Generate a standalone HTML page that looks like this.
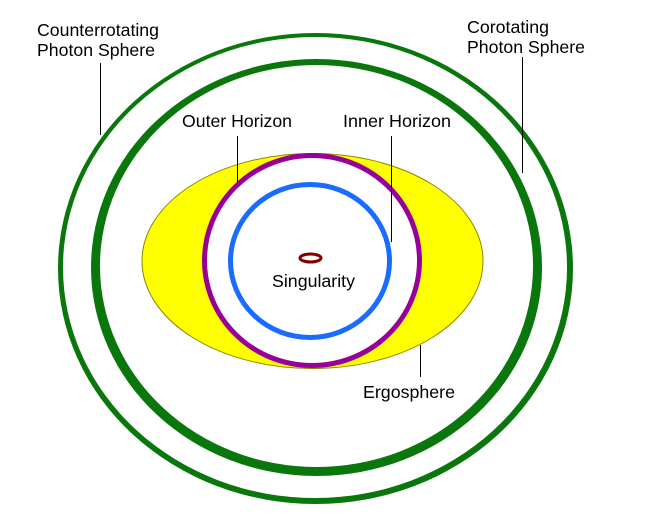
<!DOCTYPE html>
<html>
<head>
<meta charset="utf-8">
<style>
  html, body { margin: 0; padding: 0; background: #ffffff; }
  body { width: 649px; height: 528px; overflow: hidden; }
  svg { display: block; }
  text { font-family: "Liberation Sans", Arial, sans-serif; font-size: 17.5px; fill: #000; }
</style>
</head>
<body>
<svg width="649" height="528" viewBox="0 0 649 528" xmlns="http://www.w3.org/2000/svg">
  <rect x="0" y="0" width="649" height="528" fill="#ffffff"/>

  <!-- Counterrotating photon sphere (outer thin ring) -->
  <ellipse cx="315.5" cy="268.5" rx="257.5" ry="235.5" fill="#0a770c"/>
  <ellipse cx="315" cy="267.5" rx="252" ry="230.5" fill="#ffffff"/>
  <!-- Corotating photon sphere (thick ring, thicker at bottom) -->
  <ellipse cx="316.5" cy="267.5" rx="225.5" ry="208.5" fill="#0a770c"/>
  <ellipse cx="316.5" cy="266" rx="216.5" ry="201" fill="#ffffff"/>

  <!-- Ergosphere -->
  <ellipse cx="312.5" cy="261" rx="170.5" ry="107.5" fill="#ffff00" stroke="#8a8a00" stroke-width="1"/>

  <!-- Outer horizon (purple) -->
  <ellipse cx="312" cy="260.5" rx="107.5" ry="105" fill="#ffffff" stroke="#990099" stroke-width="5"/>

  <!-- Inner horizon (blue) -->
  <ellipse cx="310" cy="261" rx="79.5" ry="76.5" fill="#ffffff" stroke="#1a6cff" stroke-width="5"/>

  <!-- Singularity ring -->
  <ellipse cx="310.5" cy="258" rx="10.5" ry="4" fill="#ffffff" stroke="#800000" stroke-width="3"/>

  <!-- Leader lines -->
  <line x1="100.5" y1="63" x2="100.5" y2="135" stroke="#000" stroke-width="1"/>
  <line x1="522.5" y1="57" x2="522.5" y2="173" stroke="#000" stroke-width="1"/>
  <line x1="237.5" y1="136" x2="237.5" y2="182" stroke="#000" stroke-width="1"/>
  <line x1="391.5" y1="136" x2="391.5" y2="242" stroke="#000" stroke-width="1"/>
  <line x1="420.5" y1="345" x2="420.5" y2="377" stroke="#000" stroke-width="1"/>

  <!-- Labels -->
  <text x="37" y="36" textLength="122" lengthAdjust="spacingAndGlyphs">Counterrotating</text>
  <text x="37" y="56" textLength="118" lengthAdjust="spacingAndGlyphs">Photon Sphere</text>

  <text x="467" y="33" textLength="82" lengthAdjust="spacingAndGlyphs">Corotating</text>
  <text x="467" y="53" textLength="118" lengthAdjust="spacingAndGlyphs">Photon Sphere</text>

  <text x="182" y="127" textLength="110" lengthAdjust="spacingAndGlyphs">Outer Horizon</text>
  <text x="343" y="127" textLength="108" lengthAdjust="spacingAndGlyphs">Inner Horizon</text>

  <text x="272" y="287" textLength="83" lengthAdjust="spacingAndGlyphs">Singularity</text>

  <text x="363" y="398" textLength="92" lengthAdjust="spacingAndGlyphs">Ergosphere</text>
</svg>
</body>
</html>
